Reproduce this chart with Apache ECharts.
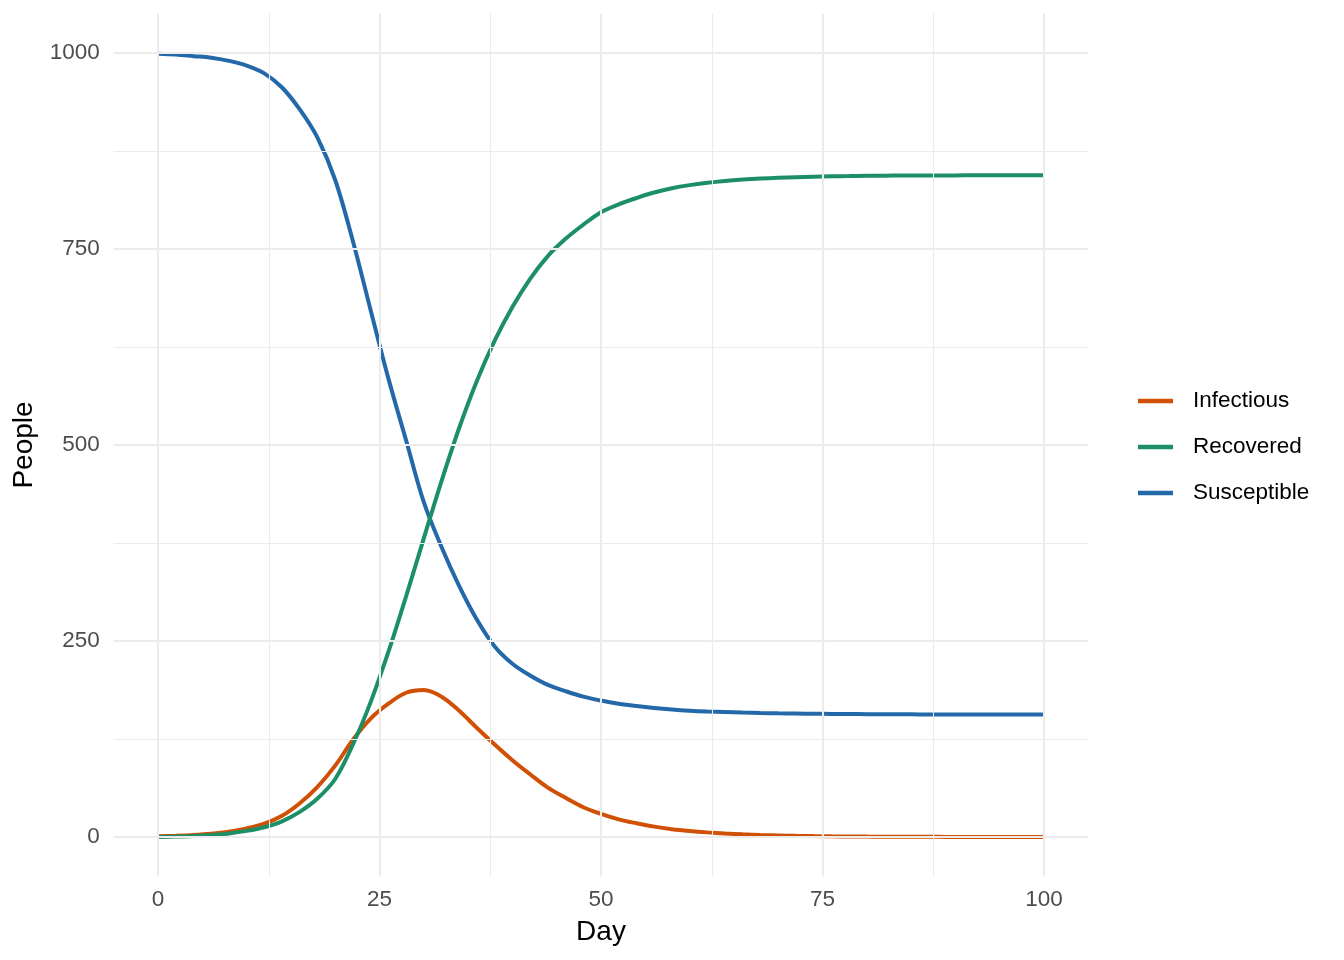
<!DOCTYPE html>
<html>
<head>
<meta charset="utf-8">
<title>SIR</title>
<script src="https://cdn.jsdelivr.net/npm/echarts@6/dist/echarts.min.js"></script>
<style>
  html, body { margin: 0; padding: 0; background: #fff; }
  #main { width: 1344px; height: 960px; }
</style>
</head>
<body>
<div id="main"></div>
<script>
// days (every 2 days) and people per compartment
var days = [0, 2, 4, 6, 8, 10, 12, 14, 16, 18, 20, 22, 24, 26, 28, 30, 32, 34, 36, 38, 40,
  42, 44, 46, 48, 50, 52, 54, 56, 58, 60, 62, 64, 66, 68, 70, 72, 74, 76, 78, 80,
  82, 84, 86, 88, 90, 92, 94, 96, 98, 100];
var susceptible = [999, 998, 996, 994, 990, 984, 974, 956, 928, 892, 838, 760, 672, 585, 506, 427, 370, 320, 277, 243, 221,
  206, 194, 186, 179, 174, 170, 167, 164.5, 162.5, 161, 160, 159.3, 158.7, 158.2, 157.8, 157.5, 157.2, 157, 156.8, 156.7,
  156.6, 156.5, 156.4, 156.3, 156.3, 156.2, 156.2, 156.1, 156.1, 156.1];
var infectious = [1, 1.6, 2.6, 4.2, 6.8, 11, 17, 27, 43, 64, 91, 124, 151, 170, 184, 187.5, 179, 161, 139, 118, 98,
  80, 63, 50, 38, 29.5, 22.5, 17.5, 13.2, 10, 7.7, 5.9, 4.5, 3.4, 2.6, 2, 1.5, 1.15, 0.9, 0.7, 0.5,
  0.4, 0.3, 0.23, 0.18, 0.14, 0.1, 0.08, 0.06, 0.05, 0.04];
var recovered = [0, 0.5, 1.3, 2.6, 4.6, 7.8, 12.5, 20, 32, 49, 74, 118, 172, 236, 307, 381, 454, 522, 582, 633, 676,
  712, 741, 763, 781, 797, 807, 815, 822, 827.5, 831.5, 834.5, 836.8, 838.5, 839.8, 840.8, 841.6, 842.2, 842.7, 843, 843.3,
  843.5, 843.7, 843.8, 843.9, 843.9, 844, 844, 844, 844, 844];

var xTicks = [0, 25, 50, 75, 100];
var xMinor = [12.5, 37.5, 62.5, 87.5];
var yTicks = [0, 250, 500, 750, 1000];
var yMinor = [125, 375, 625, 875];

var font = 'Liberation Sans, Arial, Helvetica, sans-serif';
var gridCol = '#EBEBEB';

function pairs(ys) {
  return days.map(function (d, i) { return [d, ys[i]]; });
}

function gridLines() {
  var out = [];
  xTicks.forEach(function (v) { out.push({ xAxis: v, lineStyle: { width: 2.1 } }); });
  xMinor.forEach(function (v) { out.push({ xAxis: v, lineStyle: { width: 1.1 } }); });
  yTicks.forEach(function (v) { out.push({ yAxis: v, lineStyle: { width: 2.1 } }); });
  yMinor.forEach(function (v) { out.push({ yAxis: v, lineStyle: { width: 1.1 } }); });
  return out;
}

function lineSeries(name, ys, color, z) {
  return {
    name: name,
    type: 'line',
    data: pairs(ys),
    showSymbol: false,
    smooth: 0.35,
    z: z,
    lineStyle: { color: color, width: 4 },
    itemStyle: { color: color },
    emphasis: { disabled: true }
  };
}

var chart = echarts.init(document.getElementById('main'), null, { renderer: 'canvas' });

var option = {
  animation: false,
  backgroundColor: '#fff',
  textStyle: { fontFamily: font },
  grid: { left: 113.7, right: 255.7, top: 13.8, bottom: 83.8 },
  legend: {
    orient: 'vertical',
    left: 1133,
    top: 384,
    icon: 'rect',
    itemWidth: 35,
    itemHeight: 4.5,
    itemGap: 22,
    data: ['Infectious', 'Recovered', 'Susceptible'],
    textStyle: { fontSize: 22.5, color: '#000', lineHeight: 24, padding: [0, 0, 0, 15], fontFamily: font }
  },
  xAxis: {
    type: 'value',
    min: -5,
    max: 105,
    name: 'Day',
    nameLocation: 'middle',
    nameGap: 42,
    nameTextStyle: { fontSize: 28, color: '#000', fontFamily: font },
    axisLine: { show: false },
    axisTick: { show: false },
    splitLine: { show: false },
    axisLabel: { customValues: xTicks, fontSize: 22.5, color: '#4D4D4D', margin: 12, fontFamily: font,
      formatter: function (v) { return String(v); } }
  },
  yAxis: {
    type: 'value',
    min: -50,
    max: 1050,
    name: 'People',
    nameLocation: 'middle',
    nameRotate: 90,
    nameGap: 67,
    nameTextStyle: { fontSize: 28, color: '#000', fontFamily: font },
    axisLine: { show: false },
    axisTick: { show: false },
    splitLine: { show: false },
    axisLabel: { customValues: yTicks, fontSize: 22.5, color: '#4D4D4D', margin: 14, fontFamily: font,
      formatter: function (v) { return String(v); } }
  },
  series: [
    {
      name: 'grid',
      type: 'line',
      data: [],
      z: 1,
      silent: true,
      markLine: {
        silent: true,
        symbol: 'none',
        label: { show: false },
        animation: false,
        lineStyle: { color: gridCol, type: 'solid' },
        data: gridLines()
      }
    },
    lineSeries('Infectious', infectious, '#D05005', 2),
    lineSeries('Susceptible', susceptible, '#2368A9', 3),
    lineSeries('Recovered', recovered, '#1D8F67', 4)
  ]
};

chart.setOption(option);
</script>
</body>
</html>
